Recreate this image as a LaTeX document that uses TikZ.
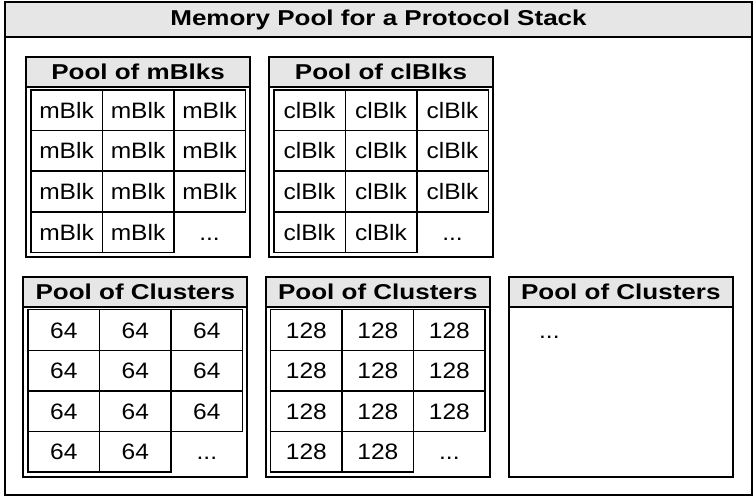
\documentclass[tikz,border=0pt]{standalone}
\usepackage{fontspec}
\setmainfont{Liberation Sans}[FakeStretch=1.1]
\newfontfamily\headfont{Liberation Sans}[FakeStretch=1.21]
\usepackage{tikz}
\usetikzlibrary{positioning, calc}
\definecolor{HeadGray}{HTML}{E6E6E6}

\begin{document}
\begin{tikzpicture}[
  x=1pt, y=-1pt,
  every node/.style={font=\fontsize{22.3}{24}\selectfont, inner sep=0pt, outer sep=0pt},
  frame/.style={draw, line width=1.8pt, anchor=north west, minimum width=747pt, minimum height=493pt},
  titlehead/.style={draw, fill=HeadGray, line width=1.8pt, anchor=north west, minimum width=747pt, minimum height=35pt, font=\headfont\fontsize{21.5}{23}\selectfont\bfseries},
  pool/.style={draw, line width=1.8pt, anchor=north west, minimum width=224pt, minimum height=200pt},
  poolhead/.style={draw, fill=HeadGray, line width=1.8pt, anchor=north west, minimum width=224pt, minimum height=30pt, font=\headfont\fontsize{21.5}{23}\selectfont\bfseries},
  cell/.style={draw, line width=1.5pt, anchor=north west, minimum width=71.5pt, minimum height=40.6pt, text height=16pt, text depth=0pt},
]
  \useasboundingbox (0,0) rectangle (756,496);

  % Outer frame and title
  \node[frame] (outer) at (5,2) {};
  \node[titlehead] (title) at (outer.north west) {Memory Pool for a Protocol Stack};

  % Pools of blocks
  \node[pool] (mpool) at (26,57) {};
  \node[pool, right=19pt of mpool] (clpool) {};

  % Pools of clusters
  \node[pool] (capool) at (23.3,276.7) {};
  \node[pool, right=18.5pt of capool] (cbpool) {};
  \node[pool, right=19pt of cbpool] (ccpool) {};

  % Pool headers
  \node[poolhead] (mpool-head) at (mpool.north west) {Pool of mBlks};
  \node[poolhead] (clpool-head) at (clpool.north west) {Pool of clBlks};
  \node[poolhead] (capool-head) at (capool.north west) {Pool of Clusters};
  \node[poolhead] (cbpool-head) at (cbpool.north west) {Pool of Clusters};
  \node[poolhead] (ccpool-head) at (ccpool.north west) {Pool of Clusters};

  % Cells
  \foreach \p/\t in {mpool/mBlk, clpool/clBlk, capool/64, cbpool/128}{
    \foreach \r in {1,2,3}{
      \foreach \c in {1,2,3}
        \node[cell] (\p-\r-\c) at ($(\p-head.south west)+({4.8+(\c-1)*71.5},{3+(\r-1)*40.6})$) {\t};
    }
    \node[cell, below=0pt of \p-3-1] (\p-4-1) {\t};
    \node[cell, below=0pt of \p-3-2] (\p-4-2) {\t};
    \node[cell, draw=none, below=0pt of \p-3-3] (\p-4-3) {...};
  }
  \node[cell, draw=none] (ccpool-1-1) at ($(ccpool-head.south west)+(4.8,3)$) {...};
\end{tikzpicture}
\end{document}
